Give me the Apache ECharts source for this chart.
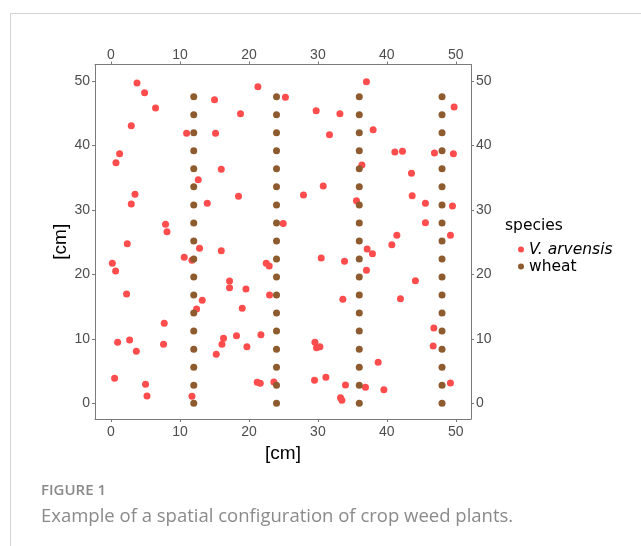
<!DOCTYPE html>
<html>
<head>
<meta charset="utf-8">
<title>Spatial configuration of crop and weed plants</title>
<script src="https://cdn.jsdelivr.net/npm/echarts@6/dist/echarts.min.js"></script>
<style>
  html, body { margin: 0; padding: 0; background: #ffffff; }
  #chart { width: 641px; height: 546px; }
</style>
</head>
<body>
<div id="chart"></div>
<script>
// Weed plant positions (V. arvensis), x and y in cm
const weedX = [
  3.77, 4.87, 6.46, 2.94, 10.96, 15.16, 15.01, 18.78, 21.30, 1.25,
  0.72, 15.99, 12.65, 3.48, 2.94, 13.96, 18.49, 7.91, 8.12, 24.97,
  25.29,
  37.04, 29.75, 33.19, 49.75, 38.01, 31.68, 41.16, 42.26, 46.90, 49.65,
  36.38, 43.57, 30.77, 27.91, 43.67, 35.59, 45.59, 49.51, 45.59, 41.45,
  49.22,
  2.36, 12.84, 15.99, 10.62, 11.74, 0.19, 0.67, 22.51, 22.94, 17.19,
  17.19, 19.57, 2.26, 22.99, 13.23, 12.41, 19.03, 7.72, 0.96, 2.70,
  3.67, 7.62, 16.32, 16.09, 18.20, 19.71, 21.74, 15.26, 0.52, 5.01,
  5.22, 11.74, 21.20, 21.64, 23.62,
  40.72, 37.14, 37.91, 30.48, 33.86, 37.04, 44.14, 33.62, 41.97, 46.81,
  29.57, 29.80, 30.29, 46.71, 38.74, 31.16, 29.51, 34.00, 36.90, 39.57,
  49.22, 33.28, 33.48
];
const weedY = [
  49.72, 48.21, 45.84, 43.09, 41.91, 41.91, 47.13, 44.95, 49.15, 38.74,
  37.34, 36.32, 34.70, 32.44, 30.93, 31.04, 32.13, 27.78, 26.63, 27.90,
  47.52,
  49.92, 45.42, 44.95, 46.00, 42.47, 41.69, 39.01, 39.11, 38.85, 38.74,
  36.99, 35.70, 33.73, 32.33, 32.22, 31.44, 31.04, 30.62, 28.03, 26.07,
  26.07,
  24.77, 24.05, 23.68, 22.66, 22.19, 21.72, 20.53, 21.72, 21.30, 18.98,
  17.93, 17.73, 16.96, 16.80, 15.98, 14.63, 14.74, 12.41, 9.46, 9.81,
  8.06, 9.15, 10.08, 9.15, 10.48, 8.77, 10.64, 7.59, 3.87, 2.93,
  1.12, 1.07, 3.25, 3.09, 3.29,
  24.61, 23.94, 23.21, 22.55, 22.03, 20.64, 19.02, 16.13, 16.23, 11.68,
  9.46, 8.62, 8.77, 8.88, 6.35, 4.02, 3.56, 2.83, 2.47, 2.10,
  3.14, 0.85, 0.45
];

// Wheat plants sit in rows: row positions (x) and plant positions along each row (y)
const wheatRowX = [12, 24, 36, 48];
const wheatPlantY = [
  0, 2.8, 5.6, 8.4, 11.2, 14.0, 16.8, 19.6, 22.4, 25.2,
  28.0, 30.8, 33.6, 36.4, 39.2, 42.0, 44.8, 47.6
];

const tickValues = [0, 10, 20, 30, 40, 50];
const speciesNames = ['V. arvensis', 'wheat'];

const weedPoints = weedX.map((x, i) => [x, weedY[i]]);
const wheatPoints = [];
wheatRowX.forEach(x => wheatPlantY.forEach(y => wheatPoints.push([x, y])));

const X_MIN = -2.32, X_MAX = 52.2;
const Y_MIN = -2.45, Y_MAX = 52.6;

const lineColor = '#7a7a7a';
const labelColor = '#4d4d4d';
const tickFont = "'Liberation Sans', Arial, sans-serif";
const legendFont = "'DejaVu Sans', Verdana, sans-serif";

function axisBase(pos, isX, margin) {
  return {
    type: 'value',
    position: pos,
    min: isX ? X_MIN : Y_MIN,
    max: isX ? X_MAX : Y_MAX,
    axisLine: { show: true, onZero: false, lineStyle: { color: lineColor, width: 1 } },
    axisTick: { show: true, length: 3, customValues: tickValues, lineStyle: { color: lineColor } },
    axisLabel: {
      show: true, customValues: tickValues, margin: margin,
      color: labelColor, fontSize: 14, fontFamily: tickFont
    },
    splitLine: { show: false }
  };
}

const chart = echarts.init(document.getElementById('chart'), null, { renderer: 'canvas' });

const xBottom = Object.assign(axisBase('bottom', true, 6), {
  name: '[cm]', nameLocation: 'middle', nameGap: 24,
  nameTextStyle: { color: '#000', fontSize: 19, fontFamily: tickFont }
});
const xTop = axisBase('top', true, 2);
const yLeft = Object.assign(axisBase('left', false, 5), {
  name: '[cm]', nameLocation: 'middle', nameGap: 25, nameRotate: 90,
  nameMoveOverlap: false,
  nameTextStyle: { color: '#000', fontSize: 19, fontFamily: tickFont }
});
const yRight = axisBase('right', false, 5);

chart.setOption({
  animation: false,
  backgroundColor: '#ffffff',
  grid: { left: 95, right: 170, top: 64.5, bottom: 127, containLabel: false, outerBoundsMode: 'none' },
  xAxis: [xBottom, xTop],
  yAxis: [yLeft, yRight],
  legend: {
    orient: 'vertical',
    left: 513, top: 236,
    icon: 'circle',
    itemWidth: 6, itemHeight: 6, itemGap: 0,
    textStyle: { color: '#000', fontSize: 15.5, fontFamily: legendFont, lineHeight: 17 },
    data: [
      { name: speciesNames[0], textStyle: { fontStyle: 'italic' } },
      { name: speciesNames[1] }
    ]
  },
  series: [
    {
      name: speciesNames[0], type: 'scatter', xAxisIndex: 0, yAxisIndex: 0,
      symbolSize: 7, itemStyle: { color: '#ff4c4c', opacity: 1 },
      data: weedPoints
    },
    {
      name: speciesNames[1], type: 'scatter', xAxisIndex: 0, yAxisIndex: 0,
      symbolSize: 7, itemStyle: { color: '#8e5b2e', opacity: 1 },
      data: wheatPoints
    }
  ],
  graphic: [
    { type: 'line', silent: true, shape: { x1: 10.5, y1: 13.5, x2: 641, y2: 13.5 }, style: { stroke: '#d2d2d2', lineWidth: 1 } },
    { type: 'line', silent: true, shape: { x1: 10.5, y1: 13.5, x2: 10.5, y2: 546 }, style: { stroke: '#d2d2d2', lineWidth: 1 } },
    { type: 'text', left: 505, top: 218, style: { text: 'species', fill: '#000', font: "15.5px 'DejaVu Sans', Verdana, sans-serif" } },
    { type: 'text', left: 41, top: 483, style: { text: 'FIGURE 1', fill: '#8a8a8a', font: "600 15px 'Open Sans', sans-serif" } },
    { type: 'text', left: 41, top: 507, style: { text: 'Example of a spatial configuration of crop weed plants.', fill: '#8a8a8a', font: "18.5px 'Open Sans', sans-serif" } }
  ]
});
</script>
</body>
</html>
